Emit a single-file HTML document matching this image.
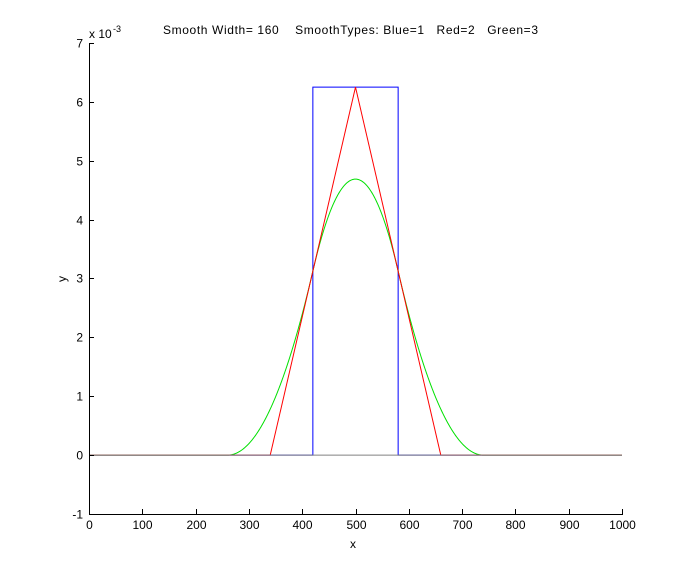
<!DOCTYPE html>
<html><head><meta charset="utf-8"><style>
body{margin:0;background:#fff;}
svg{display:block;font-family:"Liberation Sans",sans-serif;font-size:12px;}
text{white-space:pre;}
</style></head><body>
<svg id="s" width="686" height="577" viewBox="0 0 686 577">
<rect width="686" height="577" fill="#fff"/>
<g id="plot" fill="none" stroke-width="1"></g>
<g id="axes" stroke="#000" fill="none" shape-rendering="crispEdges"></g>
<g id="lab" fill="#000"></g>
<text x="163" y="34" textLength="375" lengthAdjust="spacing" xml:space="preserve">Smooth Width= 160    SmoothTypes: Blue=1   Red=2   Green=3</text>
<text x="89" y="38">x 10</text><text x="113" y="32" font-size="9">-3</text>
<text x="353" y="548" text-anchor="middle">x</text>
<text x="66" y="279" text-anchor="middle" transform="rotate(-90 66 279)">y</text>
</svg>
<script>
var X=function(v){return 89+v*0.533;},Y=function(v){return 455.1-v*1000*58.875;};
var ns="http://www.w3.org/2000/svg";
function el(p,t,a){var e=document.createElementNS(ns,t);for(var k in a)e.setAttribute(k,a[k]);p.appendChild(e);return e;}
var P=document.getElementById('plot'),A=document.getElementById('axes'),L=document.getElementById('lab');
function poly(f,c){var pts=[];for(var x=0;x<=1000;x+=1){pts.push(X(x).toFixed(2)+","+Y(f(x)).toFixed(2));}el(P,'polyline',{points:pts.join(' '),stroke:c});}
var w=160;
el(P,'polyline',{points:X(0)+","+Y(0)+" "+X(420)+","+Y(0)+" "+X(420)+","+Y(1/w)+" "+X(580)+","+Y(1/w)+" "+X(580)+","+Y(0)+" "+X(1000)+","+Y(0),stroke:'#00f'});
poly(function(x){var t=(x-260)/w;var v=0;if(t>=0&&t<1)v=t*t/2;else if(t>=1&&t<2)v=(-2*t*t+6*t-3)/2;else if(t>=2&&t<=3)v=(3-t)*(3-t)/2;return v/w;},'#00e000');
poly(function(x){var d=Math.abs(x-500);return d<160?(160-d)/160/w:0;},'#f00');
el(P,'line',{x1:X(0),y1:Y(0),x2:X(1000),y2:Y(0),stroke:'#808080'});
el(A,'line',{x1:89.5,y1:43,x2:89.5,y2:514.5});
el(A,'line',{x1:89,y1:514.5,x2:623,y2:514.5});
for(var i=0;i<=10;i++){var x=Math.round(X(i*100))+0.5;el(A,'line',{x1:x,y1:514,x2:x,y2:509});var t=el(L,'text',{x:x,y:529,'text-anchor':'middle'});t.textContent=i*100;}
for(var j=-1;j<=7;j++){var y=Math.round(Y(j/1000))+0.5;el(A,'line',{x1:89,y1:y,x2:94,y2:y});var t=el(L,'text',{x:83,y:y+4,'text-anchor':'end'});t.textContent=j;}
</script>
</body></html>
